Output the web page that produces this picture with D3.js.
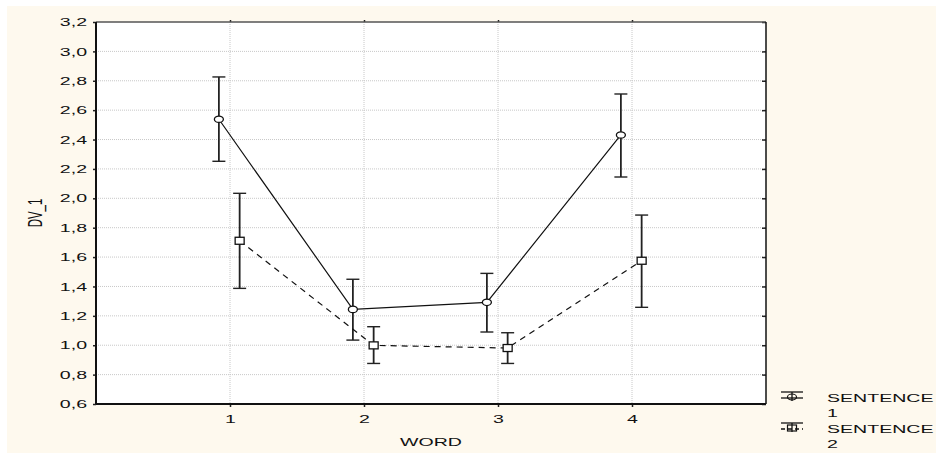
<!DOCTYPE html>
<html><head><meta charset="utf-8">
<script src="https://cdn.jsdelivr.net/npm/d3@7"></script>
<style>body{margin:0;background:#fff}svg{display:block}text{font-family:"Liberation Sans",Arial,sans-serif}</style>
</head><body>
<svg id="c" width="936" height="455"></svg>
<script>
const words = [1, 2, 3, 4];
const s1Mean = [2.538, 1.244, 1.292, 2.431];
const s1Low  = [2.252, 1.035, 1.090, 2.145];
const s1High = [2.826, 1.449, 1.489, 2.710];
const s2Mean = [1.711, 0.999, 0.981, 1.575];
const s2Low  = [1.387, 0.876, 0.876, 1.258];
const s2High = [2.034, 1.126, 1.085, 1.886];
const yTicks = [0.6,0.8,1.0,1.2,1.4,1.6,1.8,2.0,2.2,2.4,2.6,2.8,3.0,3.2];
const seriesNames = ["SENTENCE 1", "SENTENCE 2"];

const FS = 11.5, SX = 1.7;
const svg = d3.select("#c");
function stretch(sel){
  sel.each(function(){
    const w = this.getComputedTextLength();
    if (w>0) d3.select(this).attr("textLength", w*SX).attr("lengthAdjust","spacingAndGlyphs");
  });
}
svg.append("rect").attr("x",7).attr("y",6).attr("width",929).attr("height",447).attr("fill","#fef9ee");

const L=96, R=766, T=22, B=404;
const x = d3.scaleLinear().domain([0,5]).range([L,R]);
const y = d3.scaleLinear().domain([0.6,3.2]).range([B,T]);
const fmt = d => d3.format(".1f")(d).replace(".", ",");

svg.append("rect").attr("x",L).attr("y",T).attr("width",R-L).attr("height",B-T).attr("fill","#fff");

// grid
const g = svg.append("g");
g.selectAll(".hg").data(yTicks.slice(1,-1)).join("line")
 .attr("x1",L).attr("x2",R).attr("y1",d=>y(d)).attr("y2",d=>y(d))
 .attr("stroke","#c8c8c8").attr("stroke-width",1).attr("stroke-dasharray","1,1");
g.selectAll(".vg").data(words).join("line")
 .attr("x1",d=>x(d)).attr("x2",d=>x(d)).attr("y1",T).attr("y2",B)
 .attr("stroke","#c8c8c8").attr("stroke-width",1).attr("stroke-dasharray","1,1");

// axes
const yAx = svg.append("g").attr("transform",`translate(${L},0)`)
 .call(d3.axisLeft(y).tickValues(yTicks).tickFormat(fmt).tickSize(3).tickPadding(6));
const yAxR = svg.append("g").attr("transform",`translate(${R},0)`)
 .call(d3.axisLeft(y).tickValues(yTicks).tickFormat("").tickSize(4));
const xAx = svg.append("g").attr("transform",`translate(0,${B})`)
 .call(d3.axisBottom(x).tickValues(words).tickFormat(d3.format("d")).tickSize(3).tickPadding(8));
const xAxT = svg.append("g").attr("transform",`translate(0,${T})`)
 .call(d3.axisTop(x).tickValues(words).tickFormat("").tickSize(2));
[yAx,yAxR,xAx,xAxT].forEach(a=>{
  a.select(".domain").remove();
  a.selectAll("line").attr("stroke","#222").attr("stroke-width",1.5);
  a.selectAll("text").attr("font-size",FS).attr("fill","#111")
   .style("font-family","'Liberation Sans',Arial,sans-serif");
});
stretch(yAx.selectAll("text"));
stretch(xAx.selectAll("text"));
// frame
svg.append("line").attr("x1",L).attr("x2",R).attr("y1",T).attr("y2",T).attr("stroke","#555").attr("stroke-width",1.5);
svg.append("line").attr("x1",R).attr("x2",R).attr("y1",T).attr("y2",B).attr("stroke","#111").attr("stroke-width",1.5);
svg.append("line").attr("x1",L).attr("x2",L).attr("y1",T).attr("y2",B).attr("stroke","#111").attr("stroke-width",2);
svg.append("line").attr("x1",L).attr("x2",R).attr("y1",B).attr("y2",B).attr("stroke","#111").attr("stroke-width",2);

// labels
stretch(svg.append("text").attr("x",(L+R)/2).attr("y",446).attr("text-anchor","middle").attr("font-size",FS).attr("fill","#111").text("WORD"));
svg.append("text").attr("transform",`translate(42,${(T+B)/2}) rotate(-90) scale(1,${SX})`).attr("text-anchor","middle").attr("font-size",FS).attr("fill","#111").text("DV_1");

const series = [
  {mean:s1Mean, lo:s1Low, hi:s1High, off:-0.083, dash:null, marker:"circle"},
  {mean:s2Mean, lo:s2Low, hi:s2High, off:0.072, dash:"6,5", marker:"square"}
];
const line = d3.line();
series.forEach(s=>{
  const pts = words.map((w,i)=>[x(w+s.off), y(s.mean[i])]);
  svg.append("path").attr("d",line(pts)).attr("fill","none").attr("stroke","#111").attr("stroke-width",1.2)
    .attr("stroke-dasharray",s.dash);
  const eg = svg.append("g").attr("stroke","#222");
  words.forEach((w,i)=>{
    const cx = x(w+s.off);
    eg.append("line").attr("x1",cx).attr("x2",cx).attr("y1",y(s.lo[i])).attr("y2",y(s.hi[i])).attr("stroke-width",1.8);
    eg.append("line").attr("x1",cx-6.5).attr("x2",cx+6.5).attr("y1",y(s.lo[i])).attr("y2",y(s.lo[i])).attr("stroke-width",1.4);
    eg.append("line").attr("x1",cx-6.5).attr("x2",cx+6.5).attr("y1",y(s.hi[i])).attr("y2",y(s.hi[i])).attr("stroke-width",1.4);
    if(s.marker==="circle"){
      svg.append("ellipse").attr("cx",cx).attr("cy",y(s.mean[i])).attr("rx",4.5).attr("ry",3.2)
        .attr("fill","#fff").attr("stroke","#111").attr("stroke-width",1.3);
    } else {
      svg.append("rect").attr("x",cx-4.5).attr("y",y(s.mean[i])-3.5).attr("width",9).attr("height",7)
        .attr("fill","#fff").attr("stroke","#111").attr("stroke-width",1.3);
    }
  });
});

// legend
const lg = svg.append("g");
seriesNames.forEach((name,k)=>{
  const y0 = 395 + k*31;
  const s = series[k];
  const x0 = 781, x1 = 803, xc = 792;
  lg.append("line").attr("x1",x0).attr("x2",x1).attr("y1",y0-3).attr("y2",y0-3).attr("stroke","#111").attr("stroke-width",1.3);
  lg.append("line").attr("x1",x0).attr("x2",x1).attr("y1",y0+3).attr("y2",y0+3).attr("stroke","#111").attr("stroke-width",1.3)
    .attr("stroke-dasharray",s.dash?"4,3":null);
  lg.append("line").attr("x1",xc).attr("x2",xc).attr("y1",y0-3).attr("y2",y0+6).attr("stroke","#111").attr("stroke-width",1.3);
  if(s.marker==="circle"){
    lg.append("ellipse").attr("cx",xc).attr("cy",y0+2).attr("rx",4.5).attr("ry",3).attr("fill","none").attr("stroke","#111").attr("stroke-width",1.2);
  } else {
    lg.append("rect").attr("x",xc-4.5).attr("y",y0-1).attr("width",9).attr("height",6).attr("fill","none").attr("stroke","#111").attr("stroke-width",1.2);
  }
  const parts = name.split(" ");
  stretch(lg.append("text").attr("x",827).attr("y",y0+7).attr("font-size",FS).attr("fill","#111").text(parts[0]));
  stretch(lg.append("text").attr("x",827).attr("y",y0+22).attr("font-size",FS).attr("fill","#111").text(parts[1]));
});
</script>
</body></html>
